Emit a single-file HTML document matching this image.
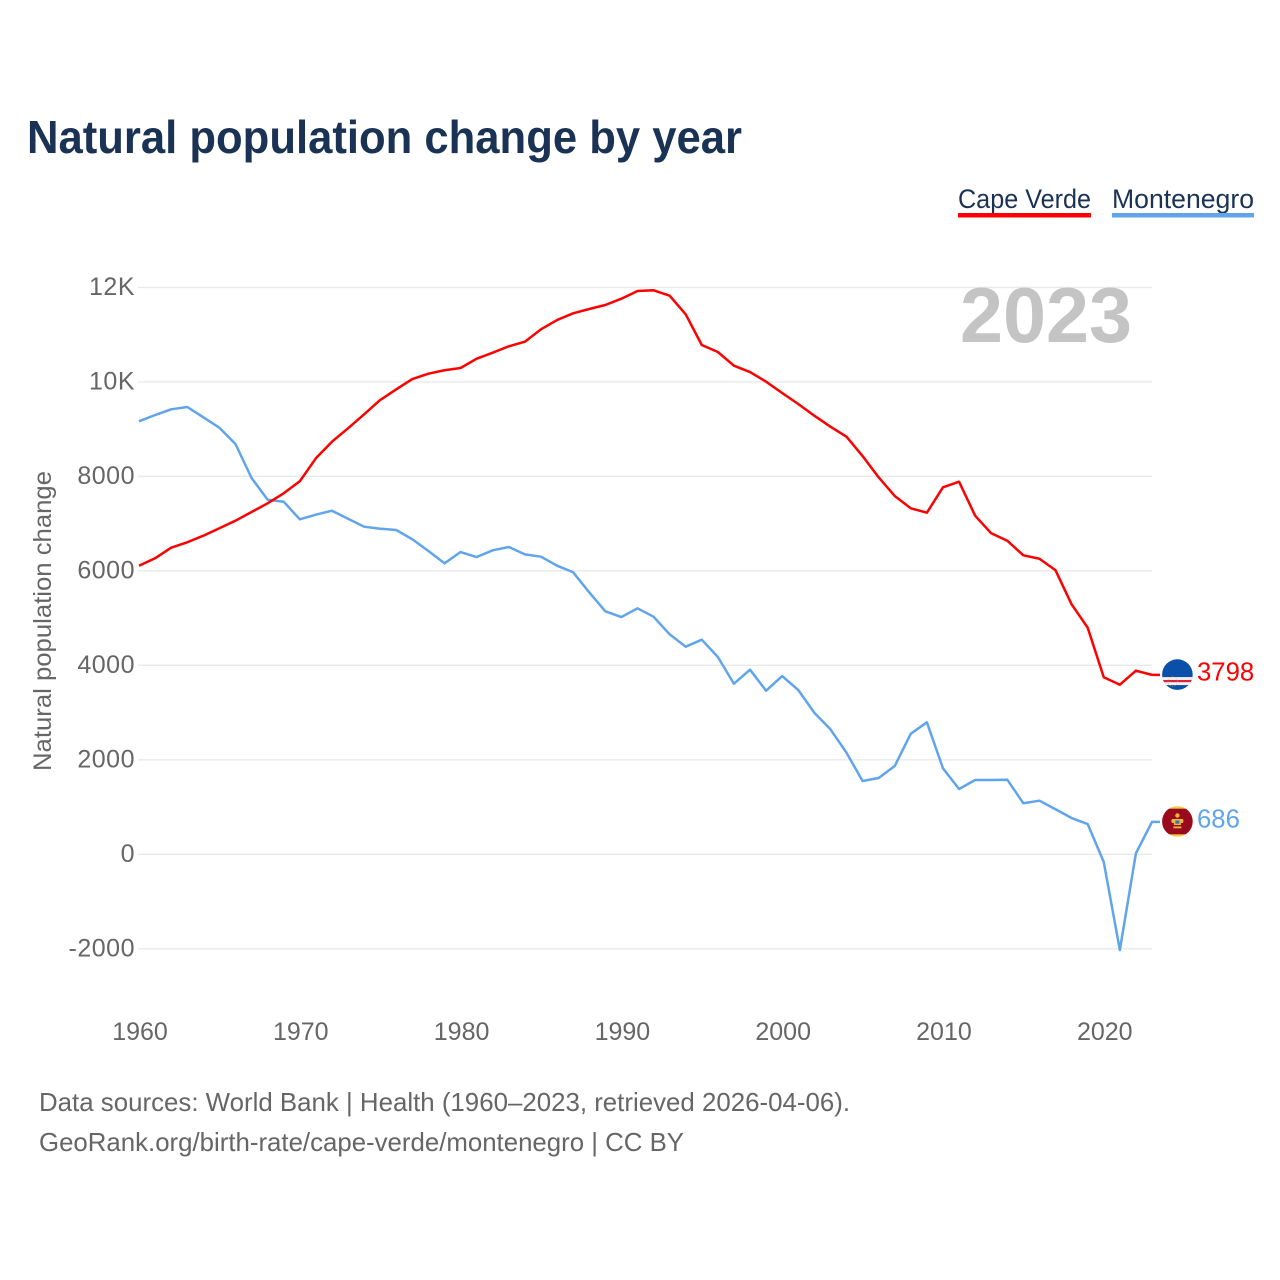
<!DOCTYPE html>
<html lang="en">
<head>
<meta charset="utf-8">
<title>Natural population change by year</title>
<style>
html,body{margin:0;padding:0;background:#fff;width:1280px;height:1280px;overflow:hidden}
svg{display:block}
text{font-family:"Liberation Sans",sans-serif}
</style>
</head>
<body>
<svg id="chart" xmlns="http://www.w3.org/2000/svg" width="1280" height="1280" viewBox="0 0 1280 1280">
  <text x="27" y="153" font-size="46" font-weight="700" fill="#1a3354" textLength="715" lengthAdjust="spacingAndGlyphs">Natural population change by year</text>

  <g>
    <g>
      <text x="958" y="208" font-size="27" fill="#1a3354" textLength="133" lengthAdjust="spacingAndGlyphs">Cape Verde</text>
      <rect x="958" y="213" width="133" height="4.5" fill="#ff0000"/>
    </g>
    <g>
      <text x="1112" y="208" font-size="27" fill="#1a3354" textLength="142" lengthAdjust="spacingAndGlyphs">Montenegro</text>
      <rect x="1112" y="213" width="142" height="4.5" fill="#60a5ec"/>
    </g>
  </g>

  <g id="grid"></g>
  <g id="yaxis"></g>
  <g id="xaxis"></g>

  <text transform="translate(51,771) rotate(-90)" font-size="25" fill="#666666" textLength="300" lengthAdjust="spacingAndGlyphs">Natural population change</text>

  <text x="960" y="342" font-size="78" font-weight="700" fill="#c4c4c4" textLength="172" lengthAdjust="spacingAndGlyphs">2023</text>

  <g id="series"></g>
  <g id="ends"></g>

  <text x="39" y="1111" font-size="26" fill="#666666" textLength="811" lengthAdjust="spacingAndGlyphs">Data sources: World Bank | Health (1960–2023, retrieved 2026-04-06).</text>
  <text x="39" y="1151" font-size="26" fill="#666666" textLength="645" lengthAdjust="spacingAndGlyphs">GeoRank.org/birth-rate/cape-verde/montenegro | CC BY</text>
</svg>
<script>
const years = [1960,1961,1962,1963,1964,1965,1966,1967,1968,1969,1970,1971,1972,1973,1974,1975,1976,1977,1978,1979,1980,1981,1982,1983,1984,1985,1986,1987,1988,1989,1990,1991,1992,1993,1994,1995,1996,1997,1998,1999,2000,2001,2002,2003,2004,2005,2006,2007,2008,2009,2010,2011,2012,2013,2014,2015,2016,2017,2018,2019,2020,2021,2022,2023];
const capeVerde = [6109,6266,6490,6605,6744,6901,7062,7246,7430,7642,7896,8383,8734,9018,9314,9617,9843,10061,10174,10246,10294,10491,10618,10754,10851,11113,11310,11452,11543,11628,11761,11924,11939,11825,11431,10781,10633,10343,10209,10004,9765,9532,9284,9052,8840,8431,7980,7585,7324,7231,7769,7887,7168,6795,6638,6329,6257,6012,5292,4797,3747,3590,3887,3798];
const montenegro = [9166,9299,9420,9469,9251,9030,8685,7966,7506,7464,7091,7189,7273,7104,6935,6892,6865,6668,6420,6160,6399,6293,6435,6505,6350,6300,6109,5970,5546,5144,5023,5207,5030,4657,4395,4543,4177,3611,3908,3463,3774,3478,2997,2646,2151,1552,1615,1869,2553,2794,1820,1382,1573,1573,1579,1080,1135,953,768,641,-163,-2026,21,686];
const yTickValues = [-2000,0,2000,4000,6000,8000,10000,12000];
const yTickLabels = ["-2000","0","2000","4000","6000","8000","10K","12K"];
const xTickValues = [1960,1970,1980,1990,2000,2010,2020];
const xTickLabels = ["1960","1970","1980","1990","2000","2010","2020"];

const NS = "http://www.w3.org/2000/svg";
const xScale = function (yr) { return 139 + (yr - 1960) * (1152 - 139) / 63; };
const yScale = function (v) { return 854.3 - v * 0.04724; };
const make = function (tag, parent) {
  const el = document.createElementNS(NS, tag);
  parent.appendChild(el);
  return el;
};

const grid = document.getElementById("grid");
const yaxis = document.getElementById("yaxis");
const xaxis = document.getElementById("xaxis");
const series = document.getElementById("series");
const ends = document.getElementById("ends");

yTickValues.forEach(function (v, i) {
  const line = make("line", grid);
  
  
  line.setAttribute("x1", 138);
  line.setAttribute("x2", 1152);
  line.setAttribute("y1", yScale(v));
  line.setAttribute("y2", yScale(v));
  line.setAttribute("stroke", "#e9e9e9");
  line.setAttribute("stroke-width", "1.4");
  const t = make("text", yaxis);
  
  
  t.setAttribute("x", 135);
  t.setAttribute("y", yScale(v) + 7.7);
  t.setAttribute("text-anchor", "end");
  t.setAttribute("font-size", "25");
  t.setAttribute("fill", "#666666");
  t.setAttribute("letter-spacing", "0.5");
  t.textContent = yTickLabels[i];
});

xTickValues.forEach(function (yr, i) {
  const t = make("text", xaxis);
  
  
  t.setAttribute("x", xScale(yr) + 1);
  t.setAttribute("y", 1040);
  t.setAttribute("text-anchor", "middle");
  t.setAttribute("font-size", "25");
  t.setAttribute("fill", "#666666");
  t.textContent = xTickLabels[i];
});

const linePoints = function (vals) {
  const pts = vals.map(function (v, i) { return xScale(years[i]).toFixed(2) + "," + yScale(v).toFixed(2); });
  pts.push((xScale(years[years.length - 1]) + 8) + "," + yScale(vals[vals.length - 1]).toFixed(2));
  return pts.join(" ");
};

const lineMv = make("polyline", series);


lineMv.setAttribute("points", linePoints(montenegro));
lineMv.setAttribute("fill", "none");
lineMv.setAttribute("stroke", "#60a5ec");
lineMv.setAttribute("stroke-width", "2.5");
lineMv.setAttribute("stroke-linejoin", "round");

const lineCv = make("polyline", series);


lineCv.setAttribute("points", linePoints(capeVerde));
lineCv.setAttribute("fill", "none");
lineCv.setAttribute("stroke", "#ff0000");
lineCv.setAttribute("stroke-width", "2.5");
lineCv.setAttribute("stroke-linejoin", "round");

/* end markers */
const cvVal = capeVerde[capeVerde.length - 1];
const mvVal = montenegro[montenegro.length - 1];
const flagX = 1177.4;

const cvFlag = make("g", ends);


cvFlag.setAttribute("transform", "translate(" + flagX + "," + (yScale(cvVal) - 0.3) + ")");
cvFlag.innerHTML =
  '<defs><clipPath id="cvc"><circle r="15.3"/></clipPath></defs>' +
  '<g clip-path="url(#cvc)"><rect x="-16" y="-16" width="32" height="32" fill="#0a50ab"/>' +
  '<rect x="-16" y="2.5" width="32" height="8" fill="#f3eef0"/>' +
  '<rect x="-16" y="5.4" width="32" height="2.2" fill="#d8253a"/>' +
  '<circle cx="-4.5" cy="7" r="4.8" fill="none" stroke="#d9b84a" stroke-width="0.6" stroke-dasharray="1.2 1.2" opacity="0.75"/></g>';

const mvFlag = make("g", ends);


mvFlag.setAttribute("transform", "translate(" + flagX + "," + (yScale(mvVal) - 0.4) + ")");
mvFlag.innerHTML =
  '<defs><clipPath id="mvc"><circle r="15.3"/></clipPath></defs>' +
  '<g clip-path="url(#mvc)"><rect x="-16" y="-16" width="32" height="32" fill="#f6c945"/>' +
  '<rect x="-16" y="-12.8" width="32" height="25.6" fill="#9a0a1e"/>' +
  '<circle cx="0" cy="-6" r="2.2" fill="#e8b93a"/>' +
  '<rect x="-6" y="-2.5" width="12" height="4" rx="1.5" fill="#e8b93a"/>' +
  '<rect x="-3.5" y="-2" width="7" height="5.5" fill="#e8b93a"/>' +
  '<rect x="-2" y="-1" width="4" height="3.2" fill="#3c6fb0"/>' +
  '<rect x="-4" y="5" width="8" height="1.8" fill="#e8b93a"/></g>';

const cvLabel = make("text", ends);


cvLabel.setAttribute("x", 1197);
cvLabel.setAttribute("y", yScale(cvVal) + 5.5);
cvLabel.setAttribute("font-size", "25.7");
cvLabel.setAttribute("fill", "#ff0000");
cvLabel.textContent = String(cvVal);

const mvLabel = make("text", ends);


mvLabel.setAttribute("x", 1197);
mvLabel.setAttribute("y", yScale(mvVal) + 5.5);
mvLabel.setAttribute("font-size", "25.7");
mvLabel.setAttribute("fill", "#60a5ec");
mvLabel.textContent = String(mvVal);
</script>
</body>
</html>
